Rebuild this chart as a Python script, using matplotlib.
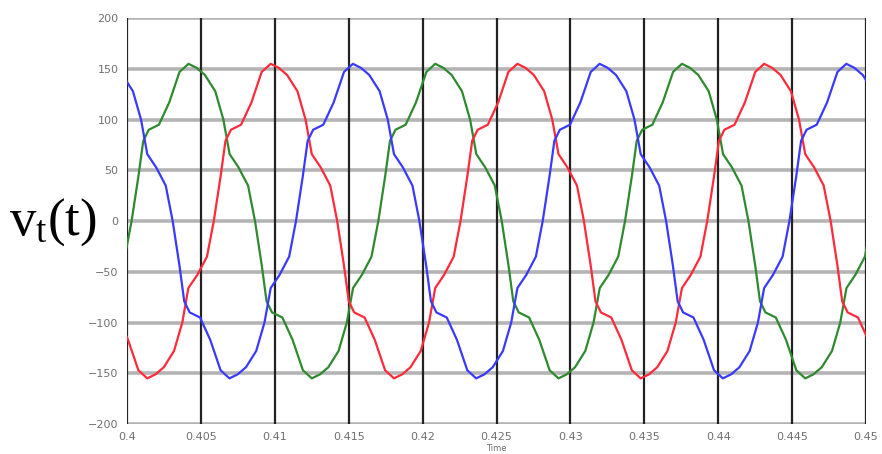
import matplotlib
matplotlib.use('Agg')
import matplotlib.pyplot as plt

# 3-phase terminal voltage, vertices (time in s, volts)
red_t = [0.39938, 0.40007, 0.40077, 0.40137, 0.40193, 0.40249, 0.40318, 0.40374, 0.40415, 0.40476, 0.40541,
         0.40587, 0.40633, 0.40666, 0.40703, 0.40772, 0.40842, 0.40911, 0.40972, 0.41027, 0.41083,
         0.41153, 0.41208, 0.41250, 0.41310, 0.41375, 0.41422, 0.41468, 0.41500, 0.41537, 0.41607,
         0.41676, 0.41746, 0.41806, 0.41862, 0.41918, 0.41987, 0.42043, 0.42085, 0.42145, 0.42210,
         0.42256, 0.42302, 0.42335, 0.42372, 0.42441, 0.42511, 0.42580, 0.42641, 0.42696, 0.42752,
         0.42822, 0.42877, 0.42919, 0.42979, 0.43044, 0.43091, 0.43137, 0.43169, 0.43206, 0.43276,
         0.43345, 0.43415, 0.43475, 0.43531, 0.43587, 0.43656, 0.43712, 0.43754, 0.43814, 0.43879,
         0.43925, 0.43971, 0.44004, 0.44041, 0.44110, 0.44180, 0.44250, 0.44310, 0.44365, 0.44421,
         0.44491, 0.44546, 0.44588, 0.44648, 0.44713, 0.44760, 0.44806, 0.44838, 0.44875, 0.44945,
         0.45014]
red_v = [-95, -117, -147, -155, -151, -144, -128, -100, -66, -53, -35,
         0, 44, 79, 90, 95, 117, 147, 155, 151, 144, 128, 100, 66, 53, 35,
         0, -44, -79, -90, -95, -117, -147, -155, -151, -144, -128, -100, -66, -53, -35,
         0, 44, 79, 90, 95, 117, 147, 155, 151, 144, 128, 100, 66, 53, 35,
         0, -44, -79, -90, -95, -117, -147, -155, -151, -144, -128, -100, -66, -53, -35,
         0, 44, 79, 90, 95, 117, 147, 155, 151, 144, 128, 100, 66, 53, 35,
         0, -44, -79, -90, -95, -117]

green_t = [0.39920, 0.39985,
           0.40031, 0.40077, 0.40110, 0.40147, 0.40216, 0.40286, 0.40355, 0.40416, 0.40471, 0.40527,
           0.40597, 0.40652, 0.40694, 0.40754, 0.40819, 0.40866, 0.40912, 0.40944, 0.40981, 0.41051,
           0.41120, 0.41190, 0.41250, 0.41306, 0.41362, 0.41431, 0.41487, 0.41529, 0.41589, 0.41654,
           0.41700, 0.41746, 0.41779, 0.41816, 0.41885, 0.41955, 0.42025, 0.42085, 0.42140, 0.42196,
           0.42266, 0.42321, 0.42363, 0.42423, 0.42488, 0.42535, 0.42581, 0.42613, 0.42650, 0.42720,
           0.42789, 0.42859, 0.42919, 0.42975, 0.43031, 0.43100, 0.43156, 0.43198, 0.43258, 0.43323,
           0.43369, 0.43415, 0.43448, 0.43485, 0.43554, 0.43624, 0.43694, 0.43754, 0.43809, 0.43865,
           0.43935, 0.43990, 0.44032, 0.44092, 0.44157, 0.44204, 0.44250, 0.44282, 0.44319, 0.44389,
           0.44458, 0.44528, 0.44588, 0.44644, 0.44700, 0.44769, 0.44825, 0.44867, 0.44927, 0.44992,
           0.45038]
green_v = [-53, -35,
           0, 44, 79, 90, 95, 117, 147, 155, 151, 144, 128, 100, 66, 53, 35,
           0, -44, -79, -90, -95, -117, -147, -155, -151, -144, -128, -100, -66, -53, -35,
           0, 44, 79, 90, 95, 117, 147, 155, 151, 144, 128, 100, 66, 53, 35,
           0, -44, -79, -90, -95, -117, -147, -155, -151, -144, -128, -100, -66, -53, -35,
           0, 44, 79, 90, 95, 117, 147, 155, 151, 144, 128, 100, 66, 53, 35,
           0, -44, -79, -90, -95, -117, -147, -155, -151, -144, -128, -100, -66, -53, -35,
           0]

blue_t = [0.39914, 0.39970, 0.40040, 0.40095, 0.40137, 0.40197, 0.40262, 0.40309, 0.40355, 0.40387,
          0.40424, 0.40494, 0.40563, 0.40633, 0.40693, 0.40749, 0.40805, 0.40874, 0.40930, 0.40972,
          0.41032, 0.41097,
          0.41143, 0.41189, 0.41222, 0.41259, 0.41328, 0.41398, 0.41468, 0.41528, 0.41583, 0.41639,
          0.41709, 0.41764, 0.41806, 0.41866, 0.41931, 0.41978, 0.42024, 0.42056, 0.42093, 0.42163,
          0.42232, 0.42302, 0.42362, 0.42418, 0.42474, 0.42543, 0.42599, 0.42641, 0.42701, 0.42766,
          0.42812, 0.42858, 0.42891, 0.42928, 0.42997, 0.43067, 0.43137, 0.43197, 0.43252, 0.43308,
          0.43378, 0.43433, 0.43475, 0.43535, 0.43600, 0.43647, 0.43693, 0.43725, 0.43762, 0.43832,
          0.43901, 0.43971, 0.44031, 0.44087, 0.44143, 0.44212, 0.44268, 0.44310, 0.44370, 0.44435,
          0.44481, 0.44527, 0.44560, 0.44597, 0.44666, 0.44736, 0.44806, 0.44866, 0.44921, 0.44977,
          0.45047]
blue_v = [151, 144, 128, 100, 66, 53, 35,
          0, -44, -79, -90, -95, -117, -147, -155, -151, -144, -128, -100, -66, -53, -35,
          0, 44, 79, 90, 95, 117, 147, 155, 151, 144, 128, 100, 66, 53, 35,
          0, -44, -79, -90, -95, -117, -147, -155, -151, -144, -128, -100, -66, -53, -35,
          0, 44, 79, 90, 95, 117, 147, 155, 151, 144, 128, 100, 66, 53, 35,
          0, -44, -79, -90, -95, -117, -147, -155, -151, -144, -128, -100, -66, -53, -35,
          0, 44, 79, 90, 95, 117, 147, 155, 151, 144, 128]

x_ticks = [0.4, 0.405, 0.41, 0.415, 0.42, 0.425, 0.43, 0.435, 0.44, 0.445, 0.45]
x_labels = ['0.4', '0.405', '0.41', '0.415', '0.42', '0.425', '0.43', '0.435', '0.44', '0.445', '0.45']
y_ticks = [-200, -150, -100, -50, 0, 50, 100, 150, 200]

#%% figure
plt.rcParams['mathtext.fontset'] = 'custom'
plt.rcParams['mathtext.rm'] = 'Liberation Serif'
plt.rcParams['mathtext.it'] = 'Liberation Serif'

fig = plt.figure(figsize=(8.82, 4.54), dpi=100)
ax = fig.add_axes([0.144, 0.066, 0.838, 0.894])

for y in y_ticks:
    ax.axhline(y, color='#b4b4b4', lw=2.6, zorder=1)
for x in x_ticks:
    ax.axvline(x, color='#222222', lw=1.6, zorder=1)

ax.plot(green_t, green_v, color='#2f8a2f', lw=1.6, zorder=3)
ax.plot(red_t, red_v, color='#ff2a3a', lw=1.6, zorder=3)
ax.plot(blue_t, blue_v, color='#3a3aff', lw=1.6, zorder=3)

ax.set_xlim(0.4, 0.45)
ax.set_ylim(-200, 200)
ax.set_xticks(x_ticks)
ax.set_xticklabels(x_labels)
ax.set_yticks(y_ticks)
ax.tick_params(length=0, labelsize=8, labelcolor='#707070', pad=6)
for s in ax.spines.values():
    s.set_visible(False)

ax.set_xlabel('Time', fontsize=6, color='#707070', labelpad=1)
fig.text(0.06, 0.51, r'$\mathrm{v_t(t)}$', fontsize=38, ha='center', va='center')

fig.savefig('out.png', dpi=100)
